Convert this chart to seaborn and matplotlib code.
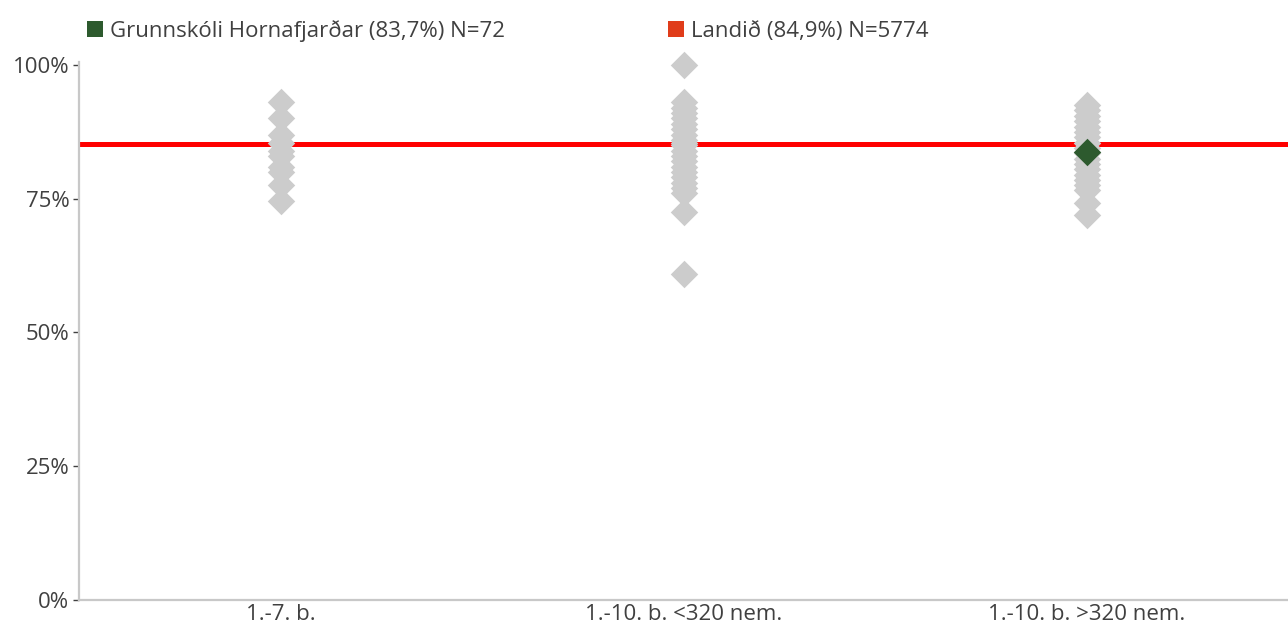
import pandas as pd
import matplotlib.pyplot as plt
import seaborn as sns
from matplotlib.patches import Patch

# --- Data ---
categories = ['1.-7. b.', '1.-10. b. <320 nem.', '1.-10. b. >320 nem.']

schools_17 = [93, 90, 87, 85.5, 84, 83, 81, 80, 77.5, 74.5]
schools_small = [100, 93, 92, 91, 90, 89, 88, 87, 86, 85.5, 85, 84, 83, 82, 81,
                 80, 79, 78, 77, 76, 72.5, 61]
schools_large = [92.5, 91.5, 90.5, 89.5, 88.5, 87.5, 86.5, 85.5, 84.5, 83.5, 82.5,
                 81.5, 80.5, 79.5, 78.5, 77.5, 76.6, 74.2, 72]

school_name = 'Grunnskóli Hornafjarðar'
school_cat = '1.-10. b. >320 nem.'
school_value = 83.7
school_n = 72
national_value = 85.2
national_label_value = 84.9
national_n = 5774

GREY = '#cccccc'
GREEN = '#2d5a2e'
RED = '#ff0000'
LEGEND_RED = '#e03c1a'
TEXT = '#404040'
FS = 16


def main():
    rows = []
    for cat, vals in zip(categories, [schools_17, schools_small, schools_large]):
        for v in vals:
            rows.append({'cat': cat, 'value': v / 100})
    df = pd.DataFrame(rows)
    school_df = pd.DataFrame({'cat': [school_cat], 'value': [school_value / 100]})

    sns.set_theme(style='white')
    plt.rcParams['font.family'] = ['Open Sans', 'DejaVu Sans']

    fig = plt.figure(figsize=(12.88, 6.28), dpi=100)
    ax = fig.add_axes([79 / 1288, 28 / 628, (1288 - 79) / 1288, 538 / 628])

    ax.axhline(national_value / 100, color=RED, lw=3.6, zorder=1)

    sns.stripplot(data=df, x='cat', y='value', order=categories, jitter=False,
                  marker='D', s=14, color=GREY, linewidth=0, ax=ax, zorder=2, clip_on=False)
    sns.stripplot(data=school_df, x='cat', y='value', order=categories, jitter=False,
                  marker='D', s=14, color=GREEN, linewidth=0, ax=ax, zorder=3, clip_on=False)

    ax.set_xlim(-0.5, 2.5)
    ax.set_ylim(0, 1.0056)
    ax.set_yticks([0, 0.25, 0.5, 0.75, 1.0])
    ax.set_yticklabels(['0%', '25%', '50%', '75%', '100%'])
    ax.set_xlabel('')
    ax.set_ylabel('')

    for side in ['top', 'right']:
        ax.spines[side].set_visible(False)
    for side in ['left', 'bottom']:
        ax.spines[side].set_color('#c8c8c8')
        ax.spines[side].set_linewidth(1.6)

    ax.tick_params(axis='y', length=4, width=1, color=TEXT, pad=3,
                   labelsize=FS, labelcolor=TEXT, left=True)
    ax.tick_params(axis='x', length=0, pad=3, labelsize=FS, labelcolor=TEXT)

    handles = [
        Patch(facecolor=GREEN, edgecolor='none',
              label=f'{school_name} ({str(school_value).replace(".", ",")}%) N={school_n}'),
        Patch(facecolor=LEGEND_RED, edgecolor='none',
              label=f'Landið ({str(national_label_value).replace(".", ",")}%) N={national_n}'),
    ]
    leg = fig.legend(handles=handles, loc='center left', bbox_to_anchor=(87 / 1288, 1 - 31 / 628),
                     ncol=2, frameon=False, fontsize=FS, handlelength=0.72, handleheight=0.72,
                     handletextpad=0.3, columnspacing=7.35, borderaxespad=0, borderpad=0)
    for t in leg.get_texts():
        t.set_color(TEXT)

    fig.savefig('out.png', dpi=100)


if __name__ == '__main__':
    main()
